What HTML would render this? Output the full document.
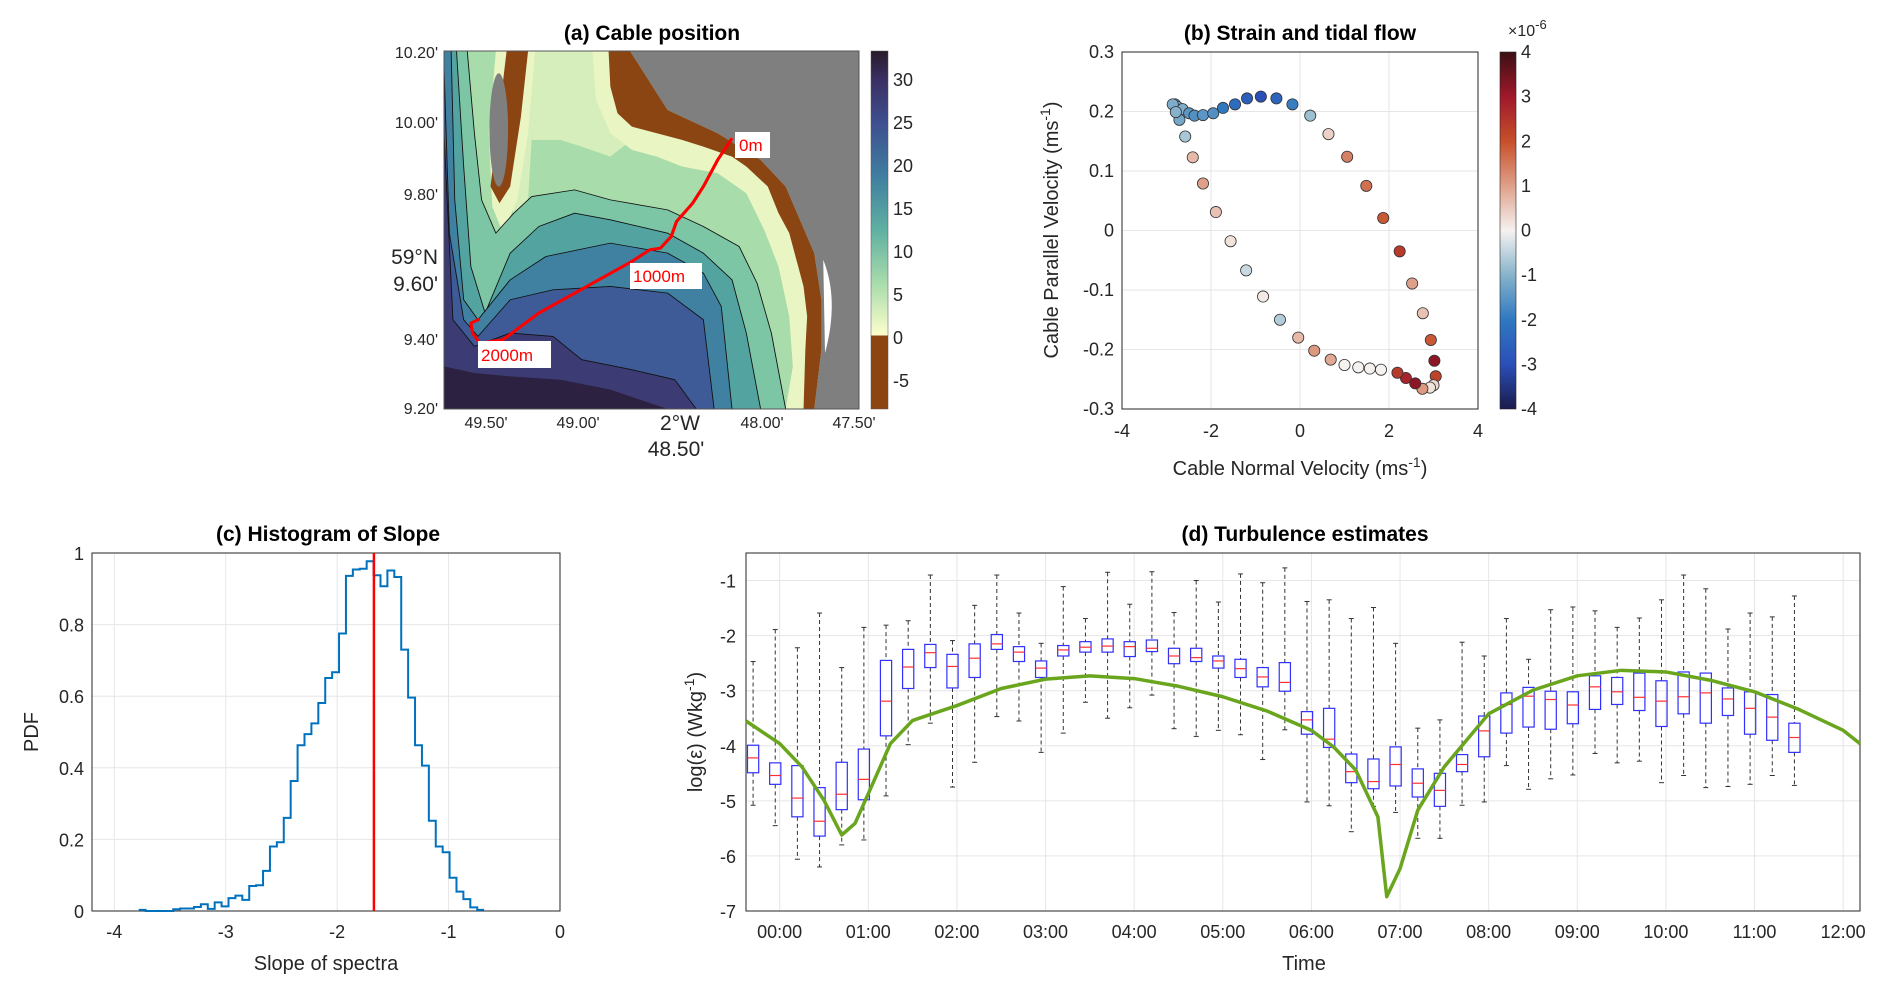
<!DOCTYPE html>
<html><head><meta charset="utf-8"><style>
body{margin:0;background:#fff;}
svg text{font-family:"Liberation Sans",sans-serif;fill:#262626;}
.t{font-weight:bold;font-size:21px;fill:#000;}
.k{font-size:18px;}
.l{font-size:20px;}
</style></head><body>
<svg id="s" width="1892" height="996" xmlns="http://www.w3.org/2000/svg">
<rect width="1892" height="996" fill="#fff"/>
<!-- Panel a -->
<g id="pa">
<text class="t" x="652" y="40" text-anchor="middle">(a) Cable position</text>
<defs><clipPath id="mc"><rect x="444" y="51" width="415" height="358"/></clipPath></defs>
<g clip-path="url(#mc)">
<g transform="translate(444,51) scale(0.35776,0.33302) translate(-235,-153)">
<rect x="235" y="153" width="1160" height="1075" fill="#a9dcab"/>
<polygon fill="#d6eebb" points="420,153 760,153 760,420 700,470 620,440 560,420 480,420 470,600 430,700 420,400"/>
<polygon fill="#e9f5c2" points="650,153 755,153 860,330 1000,400 1120,480 1190,560 1230,660 1270,760 1290,900 1290,1050 1270,1228 1190,1228 1210,1100 1200,950 1170,800 1130,690 1080,580 1000,520 900,500 830,470 760,450 700,400 660,300"/>
<polygon fill="#e9f5c2" points="380,153 490,153 470,400 440,600 400,700 370,620 360,400"/>
<polygon fill="#8b4513" points="695,153 755,153 860,330 1000,400 1120,480 1190,560 1230,660 1270,760 1290,900 1290,1050 1270,1228 1240,1228 1245,1050 1250,950 1240,860 1220,780 1200,700 1170,640 1140,560 1080,500 1040,470 960,440 900,420 830,400 760,380 720,340 700,260"/>
<polygon fill="#8b4513" points="410,153 470,153 450,350 420,560 390,610 365,560"/>
<polygon fill="#7f7f7f" points="755,153 1395,153 1395,1228 1270,1228 1290,1050 1290,900 1270,760 1230,660 1190,560 1120,480 1000,400 860,330"/>
<path d="M1295,780 Q1340,900 1300,1060 Z" fill="#fff"/>
<ellipse cx="388" cy="390" rx="26" ry="170" fill="#7f7f7f"/>
<g stroke="#111" stroke-width="2.5" stroke-linejoin="round">
<polygon fill="#7cc5a5" points="235,153 300,153 320,400 340,600 380,700 430,640 480,590 600,570 700,600 860,630 960,680 1060,740 1110,850 1150,1000 1190,1228 235,1228"/>
<polygon fill="#53a4a1" points="235,153 270,153 290,500 310,800 350,940 420,760 500,680 600,640 700,660 860,700 960,760 1040,840 1080,1000 1120,1228 235,1228"/>
<polygon fill="#4080a1" points="235,153 255,153 265,600 290,900 330,960 420,840 520,770 700,730 860,760 960,820 1010,920 1040,1228 235,1228"/>
<polygon fill="#3f5b97" points="235,200 250,700 290,960 330,1010 420,900 540,870 700,860 860,880 960,960 990,1228 235,1228"/>
<polygon fill="#3c3b73" points="235,400 260,960 320,1040 420,1000 540,1010 620,1080 760,1110 880,1140 940,1228 235,1228"/>
<polygon fill="#2c2140" stroke="none" points="235,1100 320,1120 420,1130 560,1140 700,1170 860,1228 235,1228"/>
</g>
<polyline fill="none" stroke="#f00" stroke-width="9" stroke-linejoin="round" points="1040,415 1000,480 960,560 930,610 885,665 870,710 840,745 810,750 760,785 500,940 400,1020 335,1030 315,1000 310,970 335,958"/>
</g>
</g>
<rect x="444" y="51" width="415" height="358" fill="none" stroke="#555"/>
<g font-size="16">
<rect x="735" y="132" width="35" height="26" fill="#fff"/><text x="739" y="151" style="fill:#f00;font-size:17px">0m</text>
<rect x="630" y="263" width="72" height="26" fill="#fff"/><text x="633" y="282" style="fill:#f00;font-size:17px">1000m</text>
<rect x="478" y="341" width="73" height="27" fill="#fff"/><text x="481" y="361" style="fill:#f00;font-size:17px">2000m</text>
</g>
<g font-size="16" text-anchor="end">
<text x="438" y="58" style="font-size:16px">10.20'</text>
<text x="438" y="128" style="font-size:16px">10.00'</text>
<text x="438" y="200" style="font-size:16px">9.80'</text>
<text x="438" y="264" style="font-size:21px">59°N</text>
<text x="438" y="291" style="font-size:21px">9.60'</text>
<text x="438" y="345" style="font-size:16px">9.40'</text>
<text x="438" y="414" style="font-size:16px">9.20'</text>
</g>
<g text-anchor="middle">
<text x="486" y="428" style="font-size:16px">49.50'</text>
<text x="578" y="428" style="font-size:16px">49.00'</text>
<text x="680" y="430" style="font-size:21px">2°W</text>
<text x="676" y="456" style="font-size:21px">48.50'</text>
<text x="762" y="428" style="font-size:16px">48.00'</text>
<text x="854" y="428" style="font-size:16px">47.50'</text>
</g>
<defs><linearGradient id="cbA" x1="0" y1="1" x2="0" y2="0">
<stop offset="0" stop-color="#8b4513"/><stop offset="0.205" stop-color="#8b4513"/><stop offset="0.206" stop-color="#fdfecc"/>
<stop offset="0.35" stop-color="#a9dcab"/><stop offset="0.5" stop-color="#5fb0a2"/><stop offset="0.65" stop-color="#3f7ea0"/>
<stop offset="0.8" stop-color="#3e4f8f"/><stop offset="0.92" stop-color="#3a2f63"/><stop offset="1" stop-color="#281a2c"/></linearGradient></defs>
<rect x="871" y="51" width="17" height="358" fill="url(#cbA)" stroke="#555" stroke-width="0.5"/>
<g class="k">
<text x="893" y="86">30</text><text x="893" y="129">25</text><text x="893" y="172">20</text><text x="893" y="215">15</text><text x="893" y="258">10</text><text x="893" y="301">5</text><text x="893" y="344">0</text><text x="893" y="387">-5</text>
</g>
</g>
<!-- Panel b -->
<g id="pb"></g>
<!-- Panel c -->
<g id="pc"></g>
<!-- Panel d -->
<g id="pd"></g>
</svg>
<script>
const NS='http://www.w3.org/2000/svg';
function mk(p,tag,at,txt){const e=document.createElementNS(NS,tag);for(const k in at)e.setAttribute(k,at[k]);if(txt!==undefined)e.textContent=txt;p.appendChild(e);return e;}

// ---------- Panel b data ----------
const bNormal=[-2.81,-2.76,-2.64,-2.71,-2.49,-2.37,-2.18,-1.95,-1.73,-1.46,-1.19,-0.88,-0.53,-0.17,0.23,0.64,1.06,1.49,1.87,2.24,2.52,2.76,2.94,3.02,3.05,3.00,2.92,2.75,2.59,2.38,2.19,1.82,1.57,1.31,1.00,0.69,0.32,-0.04,-0.45,-0.83,-1.21,-1.56,-1.89,-2.18,-2.41,-2.58,-2.86,-2.79];
const bParallel=[0.212,0.208,0.204,0.186,0.197,0.193,0.194,0.197,0.206,0.212,0.222,0.225,0.222,0.212,0.193,0.162,0.124,0.075,0.021,-0.035,-0.089,-0.139,-0.184,-0.219,-0.245,-0.260,-0.264,-0.266,-0.257,-0.248,-0.239,-0.234,-0.232,-0.230,-0.226,-0.217,-0.202,-0.180,-0.150,-0.111,-0.067,-0.018,0.031,0.079,0.123,0.158,0.212,0.199];
const bStrain=[-1.3,-1.2,-1.1,-1.2,-1.5,-1.6,-1.5,-1.6,-2.0,-2.3,-2.6,-3.0,-2.5,-1.9,-0.8,0.4,1.4,1.6,1.9,2.4,1.0,0.6,1.9,3.2,2.2,0.3,0.2,1.1,3.2,2.8,2.4,0.0,0.0,0.0,0.0,0.9,1.1,0.7,-0.6,0.1,-0.4,0.2,0.6,1.0,0.7,-0.7,-1.1,-1.0];
const bXTicks=[-4,-2,0,2,4];
const bYTicks=[-0.3,-0.2,-0.1,0,0.1,0.2,0.3];
const bCTicks=[-4,-3,-2,-1,0,1,2,3,4];
const cmapStops=[[-4,[26,27,75]],[-3,[42,79,184]],[-2,[47,120,192]],[-1,[134,179,203]],[0,[245,242,240]],[1,[223,160,138]],[2,[198,80,42]],[3,[160,24,43]],[4,[59,15,19]]];
function cmap(v){v=Math.max(-4,Math.min(4,v));for(let i=0;i<cmapStops.length-1;i++){const a=cmapStops[i],b=cmapStops[i+1];if(v<=b[0]){const f=(v-a[0])/(b[0]-a[0]);const c=a[1].map((x,j)=>Math.round(x+(b[1][j]-x)*f));return `rgb(${c})`;}}return 'rgb(59,15,19)';}
(function(){
const g=document.getElementById('pb');
const L=1122,R=1478,T=52,B=409;
const X=v=>L+(v+4)/8*(R-L), Y=v=>B-(v+0.3)/0.6*(B-T);
mk(g,'rect',{x:L,y:T,width:R-L,height:B-T,fill:'#fff'});
bXTicks.forEach(t=>{mk(g,'line',{x1:X(t),x2:X(t),y1:T,y2:B,stroke:'#e6e6e6'});const e=mk(g,'text',{x:X(t),y:B+28,'text-anchor':'middle',class:'k'},t);

});
bYTicks.forEach(t=>{mk(g,'line',{x1:L,x2:R,y1:Y(t),y2:Y(t),stroke:'#e6e6e6'});const e=mk(g,'text',{x:L-8,y:Y(t)+6,'text-anchor':'end',class:'k'},Math.round(t*10)/10);

});
mk(g,'rect',{x:L,y:T,width:R-L,height:B-T,fill:'none',stroke:'#262626'});
bNormal.forEach((v,i)=>{const c=mk(g,'circle',{cx:X(v),cy:Y(bParallel[i]),r:5.6,fill:cmap(bStrain[i]),stroke:'#333','stroke-width':0.8});

});
const ti=mk(g,'text',{x:1300,y:40,'text-anchor':'middle',class:'t'},'(b) Strain and tidal flow');


const xl=mk(g,'text',{x:1300,y:475,'text-anchor':'middle',class:'l'},'Cable Normal Velocity (ms');
mk(xl,'tspan',{dy:-8,'font-size':14},'-1');mk(xl,'tspan',{dy:8},')');


const yl=mk(g,'text',{transform:'translate(1058,230) rotate(-90)','text-anchor':'middle',class:'l'},'Cable Parallel Velocity (ms');
mk(yl,'tspan',{dy:-8,'font-size':14},'-1');mk(yl,'tspan',{dy:8},')');


const d=mk(g,'defs',{});const lg=mk(d,'linearGradient',{id:'cbB',x1:0,y1:1,x2:0,y2:0});
for(let k=0;k<=16;k++){const v=-4+k*0.5;mk(lg,'stop',{offset:k/16,'stop-color':cmap(v)});}
const cb=mk(g,'rect',{x:1500,y:T,width:16,height:B-T,fill:'url(#cbB)',stroke:'#262626','stroke-width':0.6});


bCTicks.forEach(t=>{const y=B-(t+4)/8*(B-T);const e=mk(g,'text',{x:1521,y:y+6,class:'k'},t);

});
const ex=mk(g,'text',{x:1508,y:36,'font-size':16},'×10');mk(ex,'tspan',{dy:-7,'font-size':13},'-6');


})();

// ---------- Panel c data ----------
const hStart=-3.781, hWidth=0.062;
const hPdf=[0.003,0,0,0,0,0.005,0.007,0.007,0.011,0.019,0.006,0.024,0.013,0.036,0.043,0.031,0.07,0.072,0.112,0.18,0.192,0.26,0.363,0.463,0.494,0.524,0.581,0.651,0.667,0.775,0.936,0.954,0.956,0.977,0.938,0.907,0.951,0.933,0.73,0.596,0.463,0.406,0.252,0.18,0.164,0.093,0.054,0.033,0.01,0.003];
const hMean=-1.67;
const cXTicks=[-4,-3,-2,-1,0];
const cYTicks=[0,0.2,0.4,0.6,0.8,1];
(function(){
const g=document.getElementById('pc');
const L=92,R=560,T=553,B=911;
const X=v=>L+(v+4.2)/4.2*(R-L), Y=v=>B-v*(B-T);
cXTicks.forEach(t=>{mk(g,'line',{x1:X(t),x2:X(t),y1:T,y2:B,stroke:'#e6e6e6'});const e=mk(g,'text',{x:X(t),y:B+27,'text-anchor':'middle',class:'k'},t);

});
cYTicks.forEach(t=>{mk(g,'line',{x1:L,x2:R,y1:Y(t),y2:Y(t),stroke:'#e6e6e6'});const e=mk(g,'text',{x:L-8,y:Y(t)+7,'text-anchor':'end',class:'k'},t);

});
mk(g,'rect',{x:L,y:T,width:R-L,height:B-T,fill:'none',stroke:'#262626'});
let pts=[];hPdf.forEach((p,i)=>{const x0=X(hStart+i*hWidth),x1=X(hStart+(i+1)*hWidth);pts.push(x0+','+Y(p),x1+','+Y(p));});
const st=mk(g,'polyline',{points:pts.join(' '),fill:'none',stroke:'#0072bd','stroke-width':2});


const ml=mk(g,'line',{x1:X(hMean),x2:X(hMean),y1:T,y2:B,stroke:'#f00','stroke-width':2.5});


const ti=mk(g,'text',{x:328,y:541,'text-anchor':'middle',class:'t'},'(c) Histogram of Slope');


const xl=mk(g,'text',{x:326,y:970,'text-anchor':'middle',class:'l'},'Slope of spectra');


const yl=mk(g,'text',{transform:'translate(38,732) rotate(-90)','text-anchor':'middle',class:'l'},'PDF');


})();

// ---------- Panel d data ----------
const dT0=-0.30, dDt=0.25;
const dWhiskHi=[-2.47,-1.89,-2.22,-1.59,-2.58,-1.85,-1.81,-1.73,-0.90,-2.09,-1.45,-0.90,-1.59,-2.14,-1.11,-1.69,-0.85,-1.43,-0.84,-1.58,-1.00,-1.39,-0.88,-1.04,-0.77,-1.38,-1.35,-1.69,-1.49,-2.14,-3.68,-3.53,-2.12,-2.37,-1.69,-2.43,-1.53,-1.48,-1.55,-1.85,-1.68,-1.35,-0.90,-1.15,-1.88,-1.59,-1.66,-1.28];
const dQ3=[-3.99,-4.31,-4.36,-4.76,-4.30,-4.06,-2.45,-2.25,-2.16,-2.34,-2.15,-1.98,-2.20,-2.46,-2.18,-2.11,-2.06,-2.11,-2.08,-2.23,-2.23,-2.37,-2.43,-2.58,-2.49,-3.38,-3.32,-4.15,-4.24,-4.02,-4.42,-4.50,-4.16,-3.46,-3.04,-2.94,-3.01,-3.02,-2.73,-2.76,-2.68,-2.82,-2.66,-2.68,-2.95,-3.02,-3.07,-3.59];
const dMedian=[-4.22,-4.54,-4.95,-5.37,-4.88,-4.61,-3.19,-2.57,-2.31,-2.56,-2.41,-2.15,-2.30,-2.59,-2.26,-2.21,-2.19,-2.20,-2.23,-2.37,-2.40,-2.46,-2.60,-2.75,-2.85,-3.53,-3.88,-4.47,-4.65,-4.34,-4.68,-4.81,-4.34,-3.73,-3.25,-3.10,-3.16,-3.26,-2.93,-3.02,-3.12,-3.19,-3.11,-3.04,-3.15,-3.32,-3.48,-3.85];
const dQ1=[-4.49,-4.70,-5.29,-5.64,-5.16,-4.98,-3.82,-2.96,-2.58,-2.95,-2.76,-2.25,-2.47,-2.76,-2.37,-2.30,-2.30,-2.38,-2.29,-2.51,-2.47,-2.59,-2.76,-2.93,-3.01,-3.79,-4.03,-4.67,-4.78,-4.73,-4.93,-5.10,-4.47,-4.20,-3.77,-3.66,-3.70,-3.60,-3.34,-3.25,-3.36,-3.65,-3.42,-3.59,-3.45,-3.79,-3.90,-4.12];
const dWhiskLo=[-5.08,-5.45,-6.06,-6.20,-5.80,-5.71,-4.91,-3.98,-3.59,-4.75,-4.30,-3.47,-3.55,-4.12,-3.77,-3.21,-3.50,-3.31,-3.08,-3.69,-3.83,-3.72,-3.80,-4.25,-3.71,-5.02,-5.09,-5.56,-5.10,-5.21,-5.68,-5.68,-5.08,-5.02,-4.36,-4.79,-4.60,-4.53,-4.14,-4.31,-4.28,-4.67,-4.54,-4.76,-4.74,-4.70,-4.54,-4.72];
const gTime=[-0.38,0,0.25,0.5,0.7,0.85,1.0,1.25,1.5,2,2.5,3,3.5,4,4.5,5,5.5,6,6.25,6.5,6.75,6.85,7.0,7.2,7.5,7.75,8,8.5,9,9.5,10,10.5,11,11.5,12,12.19];
const gEps=[-3.55,-3.96,-4.38,-4.99,-5.62,-5.41,-4.87,-3.96,-3.54,-3.27,-2.96,-2.79,-2.73,-2.78,-2.92,-3.11,-3.37,-3.72,-4.02,-4.44,-5.29,-6.74,-6.23,-5.17,-4.38,-3.90,-3.42,-2.99,-2.73,-2.63,-2.66,-2.81,-3.02,-3.34,-3.72,-3.96];
const dXTicks=['00:00','01:00','02:00','03:00','04:00','05:00','06:00','07:00','08:00','09:00','10:00','11:00','12:00'];
const dYTicks=[-7,-6,-5,-4,-3,-2,-1];
(function(){
const g=document.getElementById('pd');
const L=746,R=1860,T=553,B=911;
const X=t=>L+(t+0.38)/12.57*(R-L), Y=v=>T+(-0.5-v)/6.5*(B-T);
dXTicks.forEach((s,i)=>{mk(g,'line',{x1:X(i),x2:X(i),y1:T,y2:B,stroke:'#e6e6e6'});const e=mk(g,'text',{x:X(i),y:B+27,'text-anchor':'middle',class:'k'},s);

});
dYTicks.forEach(t=>{mk(g,'line',{x1:L,x2:R,y1:Y(t),y2:Y(t),stroke:'#e6e6e6'});const e=mk(g,'text',{x:L-10,y:Y(t)+7,'text-anchor':'end',class:'k'},t);

});
mk(g,'rect',{x:L,y:T,width:R-L,height:B-T,fill:'none',stroke:'#262626'});
const hw=5.6;
dMedian.forEach((m,i)=>{const t=dT0+i*dDt,x=X(t);
const bx=mk(g,'g',{});


mk(bx,'line',{x1:x,x2:x,y1:Y(dWhiskHi[i]),y2:Y(dQ3[i]),stroke:'#333','stroke-dasharray':'4,3','stroke-width':1});
mk(bx,'line',{x1:x,x2:x,y1:Y(dQ1[i]),y2:Y(dWhiskLo[i]),stroke:'#333','stroke-dasharray':'4,3','stroke-width':1});
mk(bx,'line',{x1:x-2.5,x2:x+2.5,y1:Y(dWhiskHi[i]),y2:Y(dWhiskHi[i]),stroke:'#333'});
mk(bx,'line',{x1:x-2.5,x2:x+2.5,y1:Y(dWhiskLo[i]),y2:Y(dWhiskLo[i]),stroke:'#333'});
mk(bx,'rect',{x:x-hw,y:Y(dQ3[i]),width:2*hw,height:Y(dQ1[i])-Y(dQ3[i]),fill:'none',stroke:'#3030ff','stroke-width':1.2});
mk(bx,'line',{x1:x-hw,x2:x+hw,y1:Y(m),y2:Y(m),stroke:'#ff3030','stroke-width':1.2});});
const gl=mk(g,'polyline',{points:gTime.map((t,i)=>X(t)+','+Y(gEps[i])).join(' '),fill:'none',stroke:'#6aa51e','stroke-width':3.5,'stroke-linejoin':'round'});


const ti=mk(g,'text',{x:1305,y:541,'text-anchor':'middle',class:'t'},'(d) Turbulence estimates');


const xl=mk(g,'text',{x:1304,y:970,'text-anchor':'middle',class:'l'},'Time');


const yl=mk(g,'text',{transform:'translate(702,732) rotate(-90)','text-anchor':'middle',class:'l'},'log(ε) (Wkg');
mk(yl,'tspan',{dy:-8,'font-size':14},'-1');mk(yl,'tspan',{dy:8},')');


})();
</script>
</body></html>
